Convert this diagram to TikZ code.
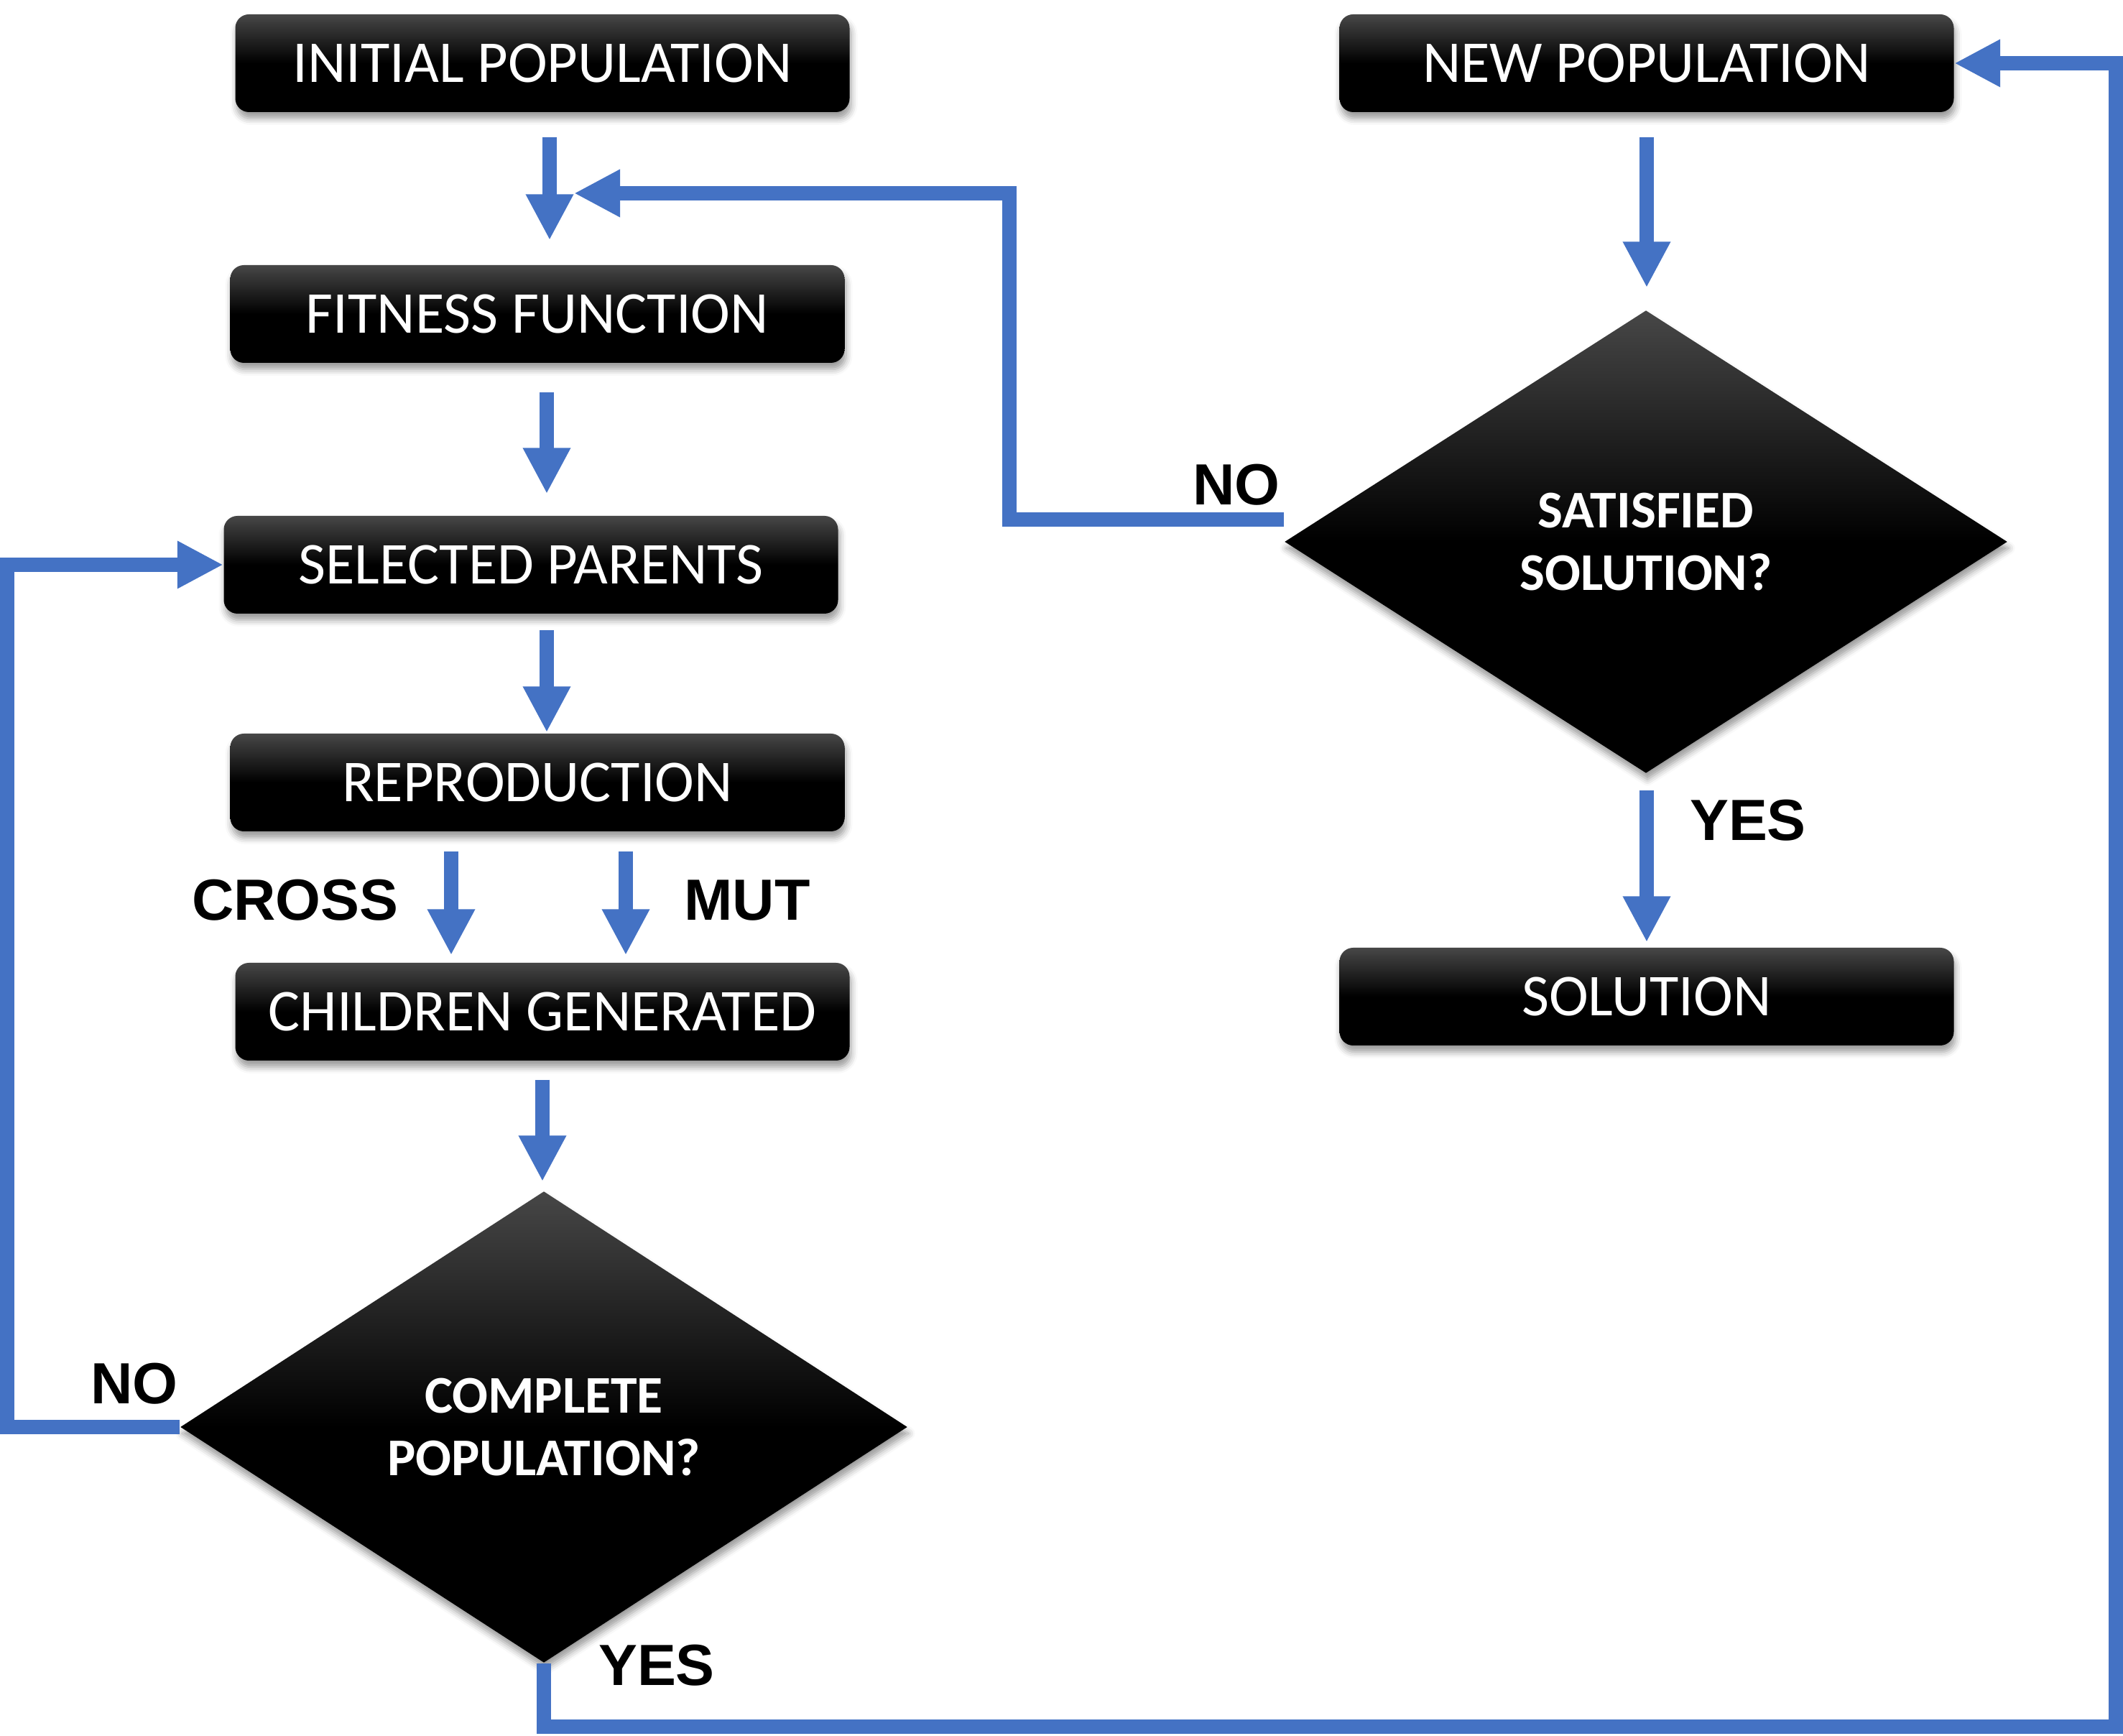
\documentclass[tikz,border=0pt]{standalone}
\usepackage{fontspec}
\setmainfont{Carlito}
\newfontfamily\lblfont{Liberation Sans}
\usetikzlibrary{shapes.geometric, arrows.meta, shadows.blur}
\definecolor{flowblue}{HTML}{4472C4}
\definecolor{boxtop}{HTML}{474747}

\begin{document}
\begin{tikzpicture}[
  box/.style={rectangle, rounded corners=0.19cm, minimum width=8.55cm, minimum height=1.36cm,
    inner sep=0pt, top color=boxtop, bottom color=black, middle color=black, text=white,
    font=\fontsize{23.5}{28}\selectfont,
    blur shadow={shadow xshift=0.02cm, shadow yshift=-0.09cm, shadow blur radius=0.09cm}},
  test/.style={diamond, inner sep=0pt, align=center, top color=boxtop, bottom color=black,
    middle color=black, text=white, font=\bfseries\fontsize{21}{24.7}\selectfont,
    blur shadow={shadow xshift=0.02cm, shadow yshift=-0.09cm, shadow blur radius=0.09cm}},
  flow/.style={draw=flowblue, line width=0.2cm, -{Triangle[length=0.64cm, width=0.62cm]}},
  lbl/.style={font=\lblfont\bfseries\fontsize{23}{27}\selectfont}]
  \useasboundingbox (0,0) rectangle (29.55,24.16);

  \node[box] (init) at (7.55,23.28) {INITIAL POPULATION};
  \node[box] (fitness) at (7.48,19.79) {FITNESS FUNCTION};
  \node[box] (parents) at (7.39,16.30) {SELECTED PARENTS};
  \node[box] (repro) at (7.48,13.27) {REPRODUCTION};
  \node[box] (children) at (7.55,10.08) {CHILDREN GENERATED};
  \node[test, minimum width=10.12cm, minimum height=6.56cm] (complete) at (7.57,4.30) {COMPLETE\\POPULATION?};
  \node[box] (newpop) at (22.92,23.28) {NEW POPULATION};
  \node[test, minimum width=10.06cm, minimum height=6.44cm] (satisfied) at (22.91,16.62) {SATISFIED\\SOLUTION?};
  \node[box] (solution) at (22.92,10.29) {SOLUTION};

  \node[lbl] (crosslbl) at (4.11,11.63) {CROSS};
  \node[lbl] (mutlbl) at (10.40,11.63) {MUT};
  \node[lbl] (nolft) at (1.87,4.90) {NO};
  \node[lbl] (yesbot) at (9.14,0.98) {YES};
  \node[lbl] (norgt) at (17.21,17.41) {NO};
  \node[lbl] (yesrgt) at (24.33,12.74) {YES};

  \coordinate (leftrail) at (0.10,4.30);
  \coordinate (botrail) at (7.57,0.13);
  \coordinate (rgtrail) at (29.45,0.13);
  \coordinate (topturn) at (14.05,21.47);
  \coordinate (topjoin) at (7.99,21.47);

  \draw[flow, shorten <=0.34cm, shorten >=0.34cm] ([xshift=1mm]init.south) -- ([xshift=1mm]init.south |- fitness.north);
  \draw[flow, shorten <=0.40cm, shorten >=0.30cm] ([xshift=1.3mm]fitness.south) -- ([xshift=1.3mm]fitness.south |- parents.north);
  \draw[flow, shorten <=0.22cm, shorten >=0.01cm] ([xshift=2.2mm]parents.south) -- ([xshift=2.2mm]parents.south |- repro.north);
  \draw[flow, shorten <=0.27cm, shorten >=0.10cm] ([xshift=-12mm]repro.south) -- ([xshift=-12mm]repro.south |- children.north);
  \draw[flow, shorten <=0.27cm, shorten >=0.10cm] ([xshift=12.3mm]repro.south) -- ([xshift=12.3mm]repro.south |- children.north);
  \draw[flow, shorten <=0.26cm, shorten >=0.13cm] (children.south) -- (children.south |- complete.north);
  \draw[flow, shorten <=0.34cm, shorten >=0.31cm] (newpop.south) -- (newpop.south |- satisfied.north);
  \draw[flow, shorten <=0.23cm, shorten >=0.07cm] (solution.north |- satisfied.south) -- (solution.north);

  \draw[flow] (complete.west) -- (leftrail) |- (parents.west);
  \draw[flow] (complete.south) -- (complete.south |- botrail) -- (rgtrail) |- (newpop.east);
  \draw[flow] ([yshift=3.1mm]satisfied.west) -| (topturn) -- (topjoin);
\end{tikzpicture}
\end{document}
